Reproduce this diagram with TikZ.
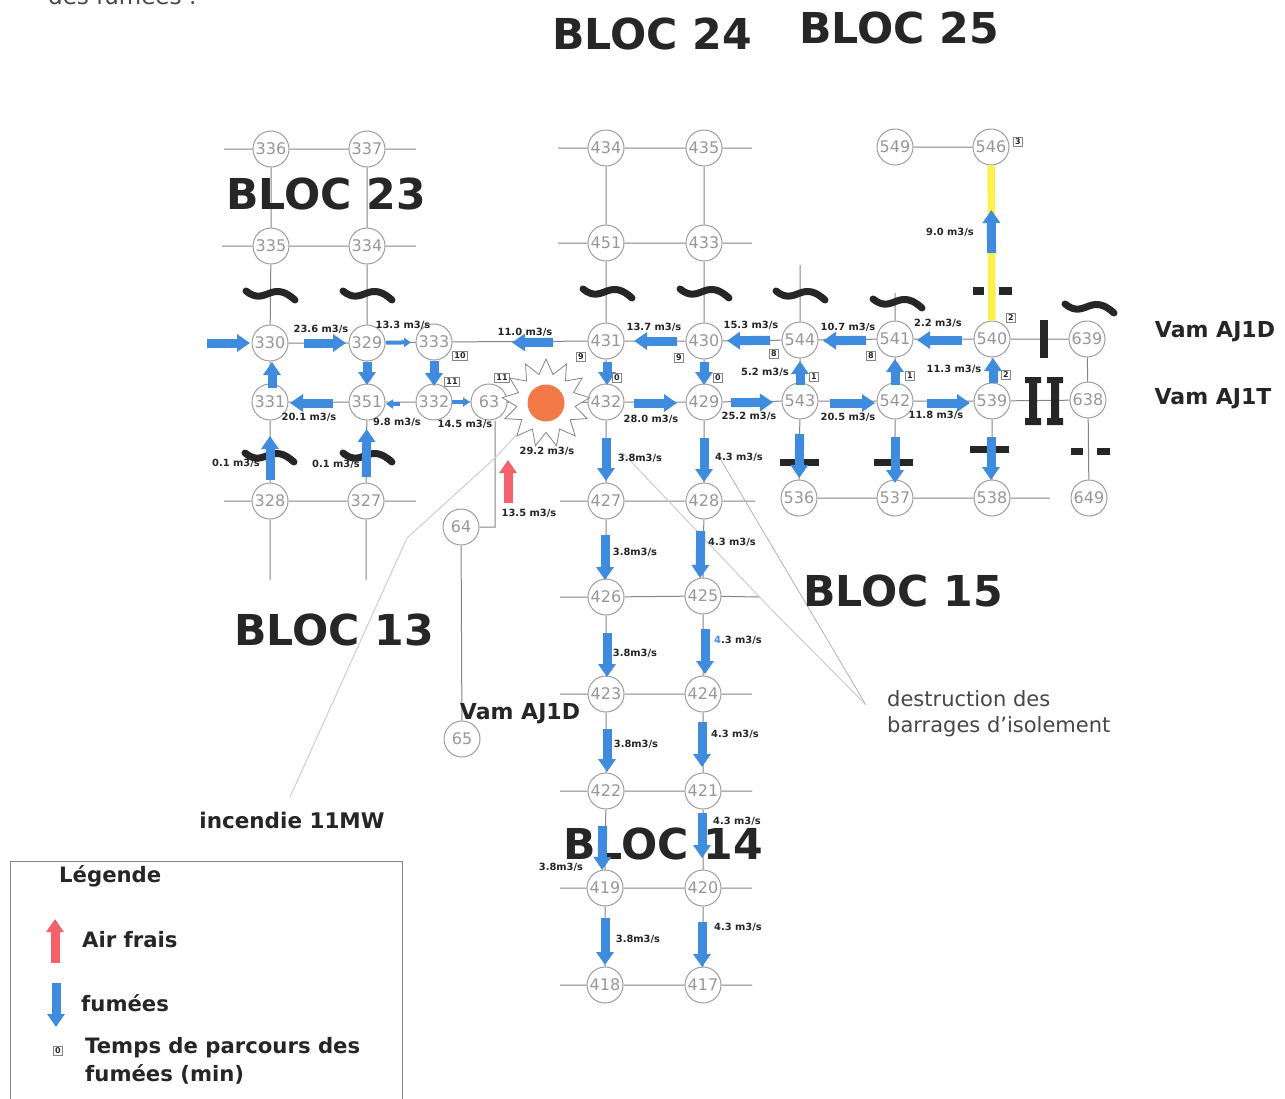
\documentclass[tikz,border=0pt]{standalone}
\usepackage{fontspec}
\setmainfont{DejaVu Sans}
\usetikzlibrary{arrows.meta,shapes.geometric}
\definecolor{fblue}{HTML}{3F8CDE}
\definecolor{fred}{HTML}{F4616B}
\definecolor{ink}{HTML}{262626}
\definecolor{lineg}{HTML}{858585}
\definecolor{firecol}{HTML}{F27A48}
\definecolor{lemon}{HTML}{FCF04A}
\tikzset{
  x=1pt,y=-1pt,
  junction/.style={circle,draw=lineg!80,line width=1pt,fill=white,minimum size=36pt,inner sep=0pt,text=lineg!85,font=\fontsize{16}{16}\selectfont},
  gal/.style={draw=lineg,line width=1pt},
  flow/.style={draw=fblue,line width=9pt,-{Triangle[length=13pt,width=17pt]}},
  flowthin/.style={draw=fblue,line width=4pt,-{Triangle[length=7pt,width=9pt]}},
  airflow/.style={draw=fred,line width=9pt,-{Triangle[length=13pt,width=17pt]}},
  wavemark/.style={draw=ink,line width=7pt,line cap=round},
  barmark/.style={fill=ink,draw=none},
  rate/.style={font=\bfseries\fontsize{9.9}{10}\selectfont,text=ink,inner sep=0pt},
  tbox/.style={draw=lineg,line width=.7pt,font=\bfseries\fontsize{8}{8}\selectfont,text=ink,inner sep=1.8pt,fill=white},
  bloc/.style={font=\bfseries\fontsize{42.6}{42}\selectfont,text=ink,inner sep=0pt},
  vam/.style={font=\bfseries\fontsize{22}{24}\selectfont,text=ink,inner sep=0pt},
  legendtxt/.style={font=\bfseries\fontsize{21.2}{28}\selectfont,text=ink,inner sep=0pt,anchor=west,align=left},
  note/.style={font=\fontsize{21}{26}\selectfont,text=ink!85,inner sep=0pt,anchor=west,align=left},
  pointer/.style={draw=lineg!70,line width=.7pt},
  pointerlight/.style={draw=lineg!40,line width=1pt},
}
\newcommand{\fl}[6][flow]{\draw[#1,shorten <=#5pt,shorten >=#6pt] ([shift={(#4)}]#2.center) -- ([shift={(#4)}]#3.center);}
\newcommand{\wavem}[2]{\draw[wavemark] (#1-24,#2-3) .. controls (#1-14,#2+5) and (#1-8,#2+2) .. (#1,#2-1) .. controls (#1+8,#2-4) and (#1+15,#2-3) .. (#1+25,#2+6);}
\newcommand{\barm}[4]{\fill[barmark] (#1,#2) rectangle (#3,#4);}
\newcommand{\ibeam}[1]{\fill[barmark] (#1-8,377) rectangle (#1+8,383) (#1-4,377) rectangle (#1+4,425) (#1-8,418) rectangle (#1+8,425);}
\begin{document}
\begin{tikzpicture}
\useasboundingbox (0,0) rectangle (1285,1098);
\fill[white] (0,0) rectangle (1285,1098);
% junctions
\foreach \n/\x/\y in {336/271/149,337/367/149,335/271/246,334/367/246,
 330/270/343,329/367/343,333/434/342,331/270/402,351/367/402,332/434/402,63/489/402,
 328/270/501,327/366/501,64/461/527,65/462/739,
 434/606/148,435/704/148,451/606/243,433/704/243,431/606/341,430/704/341,432/606/402,429/704/402,427/606/501,428/704/501,
 544/800/340,541/895/339,540/992/339,639/1087/339,543/800/401,542/895/401,539/992/401,638/1088/400,
 536/799/498,537/895/498,538/992/498,649/1089/498,549/895/147,546/991/147,
 426/606/597,425/703/596,423/606/694,424/703/694,422/606/791,421/703/791,419/605/888,420/703/888,418/605/985,417/703/985}
 {\node[junction] (n\n) at (\x,\y) {\n};}
% free ends
\foreach \n/\x/\y in {a1/224/149,a2/416/149,b1/222/246,b2/416/246,c1/224/501,c2/416/501,c3/270/580,c4/366/580,
 d1/558/148,d2/752/148,e1/558/243,e2/752/243,f1/560/501,f2/755/501,g1/560/597,g2/760/597,h1/560/694,h2/752/694,
 i1/560/791,i2/752/791,j1/560/888,j2/752/888,k1/560/985,k2/752/985,l1/1050/498,m1/800/265,m2/895/293,
 in330/207/343,airA/508/503,airB/508/460,lgA/55/963,lgB/55/919,lgC/56/983,lgD/56/1027,
 ptA/290/797,ptB/407/538,ptC/495/458,dsA/866/705,dsB/718/455,dsC/622/452,dsD/767/605,gbA/495/527}
 {\coordinate (\n) at (\x,\y);}
% fire
\node[star,star points=13,star point ratio=1.5,minimum size=88pt,draw=lineg,line width=.8pt,fill=white,inner sep=0pt] (fire) at (546,403) {};
\node[circle,fill=firecol,minimum size=37pt,inner sep=0pt] (firecore) at (546,403) {};
% galleries
\draw[gal] (a1)--(n336) (n336)--(n337) (n337)--(a2) (b1)--(n335) (n335)--(n334) (n334)--(b2)
 (n336)--(n335) (n337)--(n334) (n335)--(n330) (n334)--(n329) (n330)--(n331) (n329)--(n351)
 (n331)--(n328) (n351)--(n327) (n328)--(c3) (n327)--(c4) (c1)--(n328) (n328)--(n327) (n327)--(c2)
 (n330)--(n329) (n329)--(n333) (n333)--(n431) (n431)--(n430) (n430)--(n544) (n544)--(n541) (n541)--(n540) (n540)--(n639)
 (n331)--(n351) (n351)--(n332) (n332)--(n63) (n63)--(fire) (fire)--(n432) (n432)--(n429) (n429)--(n543) (n543)--(n542) (n542)--(n539) (n539)--(n638)
 (n333)--(n332) (n434)--(n451) (n451)--(n431) (n431)--(n432) (n432)--(n427) (n427)--(n426) (n426)--(n423) (n423)--(n422) (n422)--(n419) (n419)--(n418)
 (n435)--(n433) (n433)--(n430) (n430)--(n429) (n429)--(n428) (n428)--(n425) (n425)--(n424) (n424)--(n421) (n421)--(n420) (n420)--(n417)
 (n544)--(n543) (n543)--(n536) (n541)--(n542) (n542)--(n537) (n540)--(n539) (n539)--(n538) (n639)--(n638) (n638)--(n649)
 (n536)--(n537) (n537)--(n538) (n538)--(l1) (f1)--(n427) (n427)--(n428) (n428)--(f2)
 (g1)--(n426) (n426)--(n425) (n425)--(g2) (h1)--(n423) (n423)--(n424) (n424)--(h2)
 (i1)--(n422) (n422)--(n421) (n421)--(i2) (j1)--(n419) (n419)--(n420) (n420)--(j2)
 (k1)--(n418) (n418)--(n417) (n417)--(k2) (d1)--(n434) (n434)--(n435) (n435)--(d2)
 (e1)--(n451) (n451)--(n433) (n433)--(e2) (n549)--(n546) (n544)--(m1) (n541)--(m2)
 (n64)--(n65) (n64)-|(n63.south-|gbA);
\draw[draw=lemon,line width=7.5pt] (n540)--(n546);
% pointers
\draw[pointerlight] (ptA)--(ptB)--(ptC)--(fire);
\draw[pointer] (dsA)--(dsB);
\draw[pointerlight] (dsA)--(dsD)--(dsC);
% block titles
\node[bloc] (b24) at (652,34) {BLOC 24};
\node[bloc] (b25) at (899,28) {BLOC 25};
\node[bloc] (b23) at (326,194) {BLOC 23};
\node[bloc] (b13) at (334,630) {BLOC 13};
\node[bloc] (b15) at (903,591) {BLOC 15};
\node[bloc] (b14) at (663,844) {BLOC 14};
% barriers
\wavem{270}{294}\wavem{367}{294}\wavem{607}{292}\wavem{704}{292}\wavem{800}{294}\wavem{897}{302}\wavem{1089}{307}
\wavem{269}{456}\wavem{367}{456}
\barm{780}{459}{819}{466}\barm{874}{459}{913}{466}\barm{970}{446}{1009}{453}
\barm{1071}{448}{1083}{455}\barm{1097}{448}{1110}{455}\barm{973}{287}{984}{295}\barm{999}{287}{1012}{295}
\barm{1040}{320}{1048}{358}
\ibeam{1033}\ibeam{1055}
% flows
\draw[flow,shorten >=20pt] (in330)--(n330.center);
\fl{n330}{n329}{0,0}{34}{21}
\fl[flowthin]{n329}{n333}{0,0}{19}{23}
\fl{n431}{n333}{0,1}{53}{78}
\fl{n331}{n330}{2,0}{14}{19}
\fl{n329}{n351}{0,0}{19}{17}
\fl{n333}{n332}{0,0}{19}{16}
\fl{n351}{n331}{0,1}{34}{20}
\fl[flowthin]{n332}{n351}{0,2}{34}{19}
\fl[flowthin]{n332}{n63}{0,0}{18}{19}
\fl{n328}{n331}{0,0}{21}{34}
\fl{n327}{n351}{0,0}{24}{27}
\draw[airflow] (airA)--(airB);
\fl{n431}{n432}{1,0}{21}{17}
\fl{n430}{n429}{0,0}{21}{17}
\fl{n432}{n429}{0,1}{28}{27}
\fl{n429}{n543}{0,1}{27}{27}
\fl{n543}{n542}{0,2}{30}{20}
\fl{n542}{n539}{0,2}{32}{22}
\fl{n430}{n431}{0,0}{27}{28}
\fl{n544}{n430}{0,0}{30}{23}
\fl{n541}{n544}{0,1}{29}{23}
\fl{n540}{n541}{0,1}{30}{22}
\fl{n543}{n544}{0,0}{16}{21}
\fl{n542}{n541}{0,0}{16}{20}
\fl{n539}{n540}{1,0}{18}{19}
\fl{n432}{n427}{0,0}{36}{20}
\fl{n429}{n428}{0,0}{36}{19}
\fl{n543}{n536}{0,0}{33}{20}
\fl{n542}{n537}{0,0}{36}{15}
\fl{n539}{n538}{-1,0}{36}{18}
\fl{n540}{n546}{0,0}{86}{63}
\fl{n427}{n426}{-1,0}{34}{17}
\fl{n428}{n425}{-3,0}{30}{18}
\fl{n426}{n423}{1,0}{36}{17}
\fl{n425}{n424}{2,0}{33}{20}
\fl{n423}{n422}{1,0}{35}{19}
\fl{n424}{n421}{-1,0}{28}{24}
\fl{n422}{n419}{-3,0}{35}{18}
\fl{n421}{n420}{-1,0}{22}{30}
\fl{n419}{n418}{0,0}{30}{20}
\fl{n420}{n417}{-1,0}{34}{18}
% rates
\foreach \p/\q/\t in {321/329/{23.6 m3/s},403/325/{13.3 m3/s},525/332/{11.0 m3/s},309/417/{20.1 m3/s},397/422/{9.8 m3/s},465/424/{14.5 m3/s},547/451/{29.2 m3/s},529/513/{13.5 m3/s},236/463/{0.1 m3/s},336/464/{0.1 m3/s},
 654/327/{13.7 m3/s},751/325/{15.3 m3/s},848/327/{10.7 m3/s},938/323/{2.2 m3/s},765/372/{5.2 m3/s},954/369/{11.3 m3/s},651/419/{28.0 m3/s},749/416/{25.2 m3/s},848/417/{20.5 m3/s},936/415/{11.8 m3/s},
 640/458/{3.8m3/s},739/457/{4.3 m3/s},950/232/{9.0 m3/s},635/552/{3.8m3/s},732/542/{4.3 m3/s},635/653/{3.8m3/s},636/744/{3.8m3/s},735/734/{4.3 m3/s},561/867/{3.8m3/s},737/821/{4.3 m3/s},638/939/{3.8m3/s},738/927/{4.3 m3/s}}
 {\node[rate] at (\p,\q) {\t};}
\node[rate] (rblue) at (738,640) {\textcolor{fblue}{4}.3 m3/s};
% travel times
\foreach \p/\q/\t in {1011/318/2,1006/375/2,910/376/1,871/356/8,1018/142/3,814/377/1,774/354/8,679/358/9,718/378/0,617/378/0,581/357/9,460/356/10,452/382/11,502/378/11}
 {\node[tbox] at (\p,\q) {\t};}
% labels
\node[vam] (v1) at (1215,332) {Vam AJ1D};
\node[vam] (v2) at (1213,399) {Vam AJ1T};
\node[vam] (v3) at (520,714) {Vam AJ1D};
\node[vam,font=\bfseries\fontsize{21.5}{24}\selectfont] (inc) at (292,820) {incendie 11MW};
\node[note] (dest) at (887,714) {destruction des\\barrages d'isolement};
\node[note,font=\fontsize{23}{26}\selectfont] (top) at (48,-5) {des fumées :};
% legend
\draw[draw=lineg,line width=1pt] (10,1105) -- (10,861) -- (402,861) -- (402,1105);
\node[legendtxt] (lg0) at (59,876) {Légende};
\draw[airflow] (lgA)--(lgB);
\node[legendtxt] (lg1) at (82,940) {Air frais};
\draw[flow] (lgC)--(lgD);
\node[legendtxt] (lg2) at (81,1003) {fumées};
\node[tbox] (lg3) at (58,1051) {0};
\node[legendtxt] (lg4) at (85,1061) {Temps de parcours des\\fumées (min)};
\end{tikzpicture}
\end{document}
